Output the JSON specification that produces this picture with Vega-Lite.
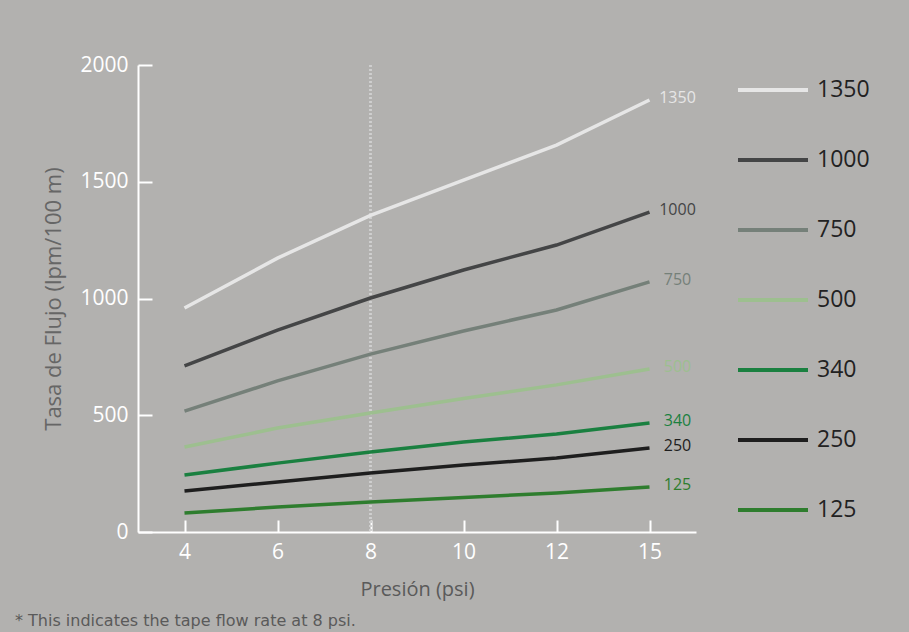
{
  "$schema": "https://vega.github.io/schema/vega-lite/v6.json",
  "autosize": {"type": "none"},
  "width": 558,
  "height": 467,
  "padding": {"left": 138, "top": 65, "right": 213, "bottom": 100},
  "background": "#b2b1af",
  "config": {
    "view": {"stroke": null},
    "font": "Open Sans"
  },
  "title": {
    "text": "* This indicates the tape flow rate at 8 psi.",
    "orient": "bottom",
    "anchor": "start",
    "frame": "group",
    "dx": -123,
    "offset": 14,
    "font": "DejaVu Sans",
    "fontSize": 16,
    "fontWeight": "normal",
    "color": "#5a5a5a"
  },
  "data": {
    "values": [
      {"p": 4, "tape": "1350", "q": 959},
      {"p": 6, "tape": "1350", "q": 1173},
      {"p": 8, "tape": "1350", "q": 1356},
      {"p": 10, "tape": "1350", "q": 1507},
      {"p": 12, "tape": "1350", "q": 1657},
      {"p": 15, "tape": "1350", "q": 1850},
      {"p": 4, "tape": "1000", "q": 711},
      {"p": 6, "tape": "1000", "q": 865},
      {"p": 8, "tape": "1000", "q": 1002},
      {"p": 10, "tape": "1000", "q": 1122},
      {"p": 12, "tape": "1000", "q": 1229},
      {"p": 15, "tape": "1000", "q": 1370},
      {"p": 4, "tape": "750", "q": 518},
      {"p": 6, "tape": "750", "q": 647},
      {"p": 8, "tape": "750", "q": 762},
      {"p": 10, "tape": "750", "q": 861},
      {"p": 12, "tape": "750", "q": 951},
      {"p": 15, "tape": "750", "q": 1071},
      {"p": 4, "tape": "500", "q": 364},
      {"p": 6, "tape": "500", "q": 445},
      {"p": 8, "tape": "500", "q": 510},
      {"p": 10, "tape": "500", "q": 572},
      {"p": 12, "tape": "500", "q": 630},
      {"p": 15, "tape": "500", "q": 698},
      {"p": 4, "tape": "340", "q": 244},
      {"p": 6, "tape": "340", "q": 295},
      {"p": 8, "tape": "340", "q": 343},
      {"p": 10, "tape": "340", "q": 385},
      {"p": 12, "tape": "340", "q": 420},
      {"p": 15, "tape": "340", "q": 467},
      {"p": 4, "tape": "250", "q": 176},
      {"p": 6, "tape": "250", "q": 214},
      {"p": 8, "tape": "250", "q": 253},
      {"p": 10, "tape": "250", "q": 287},
      {"p": 12, "tape": "250", "q": 317},
      {"p": 15, "tape": "250", "q": 360},
      {"p": 4, "tape": "125", "q": 81},
      {"p": 6, "tape": "125", "q": 107},
      {"p": 8, "tape": "125", "q": 128},
      {"p": 10, "tape": "125", "q": 148},
      {"p": 12, "tape": "125", "q": 167},
      {"p": 15, "tape": "125", "q": 193}
    ]
  },
  "encoding": {
    "x": {
      "field": "p",
      "type": "ordinal",
      "scale": {"type": "point", "padding": 0.5},
      "axis": {
        "title": "Presión (psi)",
        "labelAngle": 0,
        "labelColor": "#ffffff",
        "labelFontSize": 21,
        "labelPadding": 21,
        "tickColor": "#ffffff",
        "tickSize": -12,
        "tickWidth": 2,
        "domainColor": "#ffffff",
        "domainWidth": 2,
        "titleColor": "#5a5a5a",
        "titleFontSize": 20,
        "titleFontWeight": "normal",
        "titlePadding": 17
      }
    },
    "y": {
      "field": "q",
      "type": "quantitative",
      "scale": {"domain": [0, 2000], "nice": false},
      "axis": {
        "title": "Tasa de Flujo (lpm/100 m)",
        "values": [0, 500, 1000, 1500, 2000],
        "format": "d",
        "grid": false,
        "labelColor": "#ffffff",
        "labelFontSize": 21,
        "labelPadding": 24,
        "tickColor": "#ffffff",
        "tickSize": -14,
        "tickWidth": 2,
        "domainColor": "#ffffff",
        "domainWidth": 2,
        "titleColor": "#666666",
        "titleFontSize": 22,
        "titleFontWeight": "normal",
        "titlePadding": 14
      }
    }
  },
  "layer": [
    {
      "mark": {"type": "rule", "color": "#cfcfcf", "strokeDash": [2, 2], "strokeWidth": 1.5},
      "encoding": {"x": {"datum": 8}, "y": {"datum": 2000}, "y2": {"datum": 0}}
    },
    {
      "mark": {"type": "line", "strokeWidth": 3.5, "interpolate": "linear"},
      "encoding": {
        "color": {
          "field": "tape",
          "type": "nominal",
          "scale": {
            "domain": ["1350", "1000", "750", "500", "340", "250", "125"],
            "range": ["#e6e6e6", "#444546", "#758079", "#9dbf8f", "#1a8040", "#1e1e1e", "#2e7d2e"]
          },
          "legend": {
            "title": null,
            "orient": "none",
            "legendX": 598,
            "legendY": -12,
            "symbolType": "stroke",
            "symbolSize": 4900,
            "symbolStrokeWidth": 4,
            "labelFontSize": 23,
            "labelColor": "#222222",
            "labelOffset": 7,
            "rowPadding": 21,
            "labelFont": "Open Sans"
          }
        }
      }
    },
    {
      "transform": [{"filter": "datum.p == 15"}],
      "mark": {"type": "text", "align": "center", "dx": 28, "dy": -2, "fontSize": 16, "baseline": "middle"},
      "encoding": {
        "text": {"field": "tape"},
        "color": {"field": "tape", "type": "nominal", "legend": null}
      }
    }
  ]
}
